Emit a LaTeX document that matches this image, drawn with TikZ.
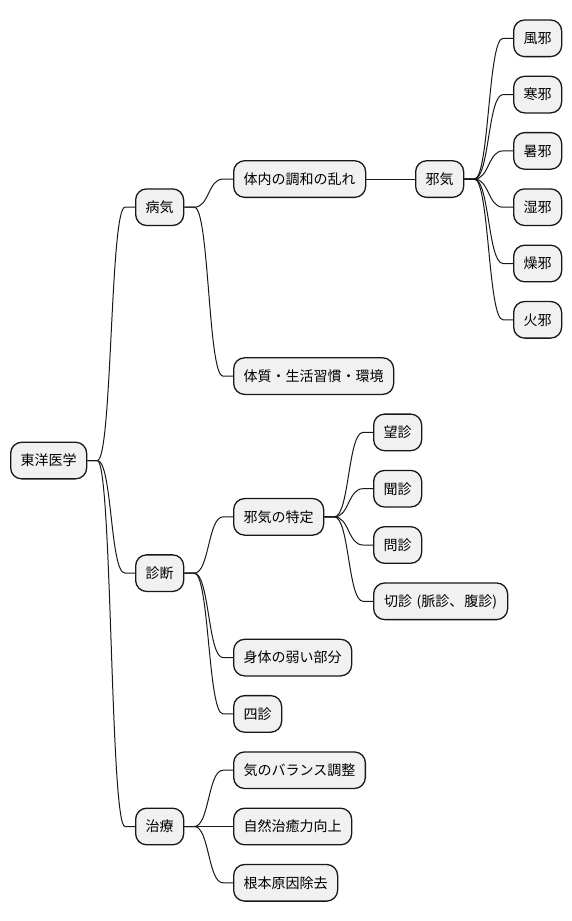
\documentclass[tikz,border=0pt]{standalone}
\usepackage{fontspec}
\setmainfont{Noto Sans CJK JP}
\usetikzlibrary{calc}
\definecolor{boxfill}{HTML}{F1F1F1}
\definecolor{boxline}{HTML}{181818}
\tikzset{
  mmbox/.style={draw=boxline, fill=boxfill, line width=1.3pt, rounded corners=11pt,
    anchor=west, inner xsep=10pt, inner ysep=0pt, minimum height=36.6pt,
    text height=12.3pt, text depth=1.7pt, font=\fontsize{14}{17}\selectfont},
  mmlink/.style={draw=boxline, line width=1pt}
}
\newcommand\mmedge[2]{\draw[mmlink] (#1.east) -- ++(10,0) .. controls ($(#1.east)+(25,0)$) and ($(#2.west)+(-25,0)$) .. ($(#2.west)+(-10,0)$) -- (#2.west);}
\begin{document}
\begin{tikzpicture}[x=1pt,y=-1pt]
\fill[white] (0,0) rectangle (572,921);
\useasboundingbox (0,0) rectangle (572,921);
% root
\node[mmbox] (root) at (10,460.55) {東洋医学};
% level 1
\node[mmbox] (byoki) at (135,207.2) {病気};
\node[mmbox] (shindan) at (135,573.15) {診断};
\node[mmbox] (chiryo) at (135,826.5) {治療};
% level 2 under 病気
\node[mmbox] (chowa) at (233,179.05) {体内の調和の乱れ};
\node[mmbox] (taishitsu) at (233,376.1) {体質・生活習慣・環境};
% level 3
\node[mmbox] (jaki) at (415,179.05) {邪気};
% level 4
\node[mmbox] (fuja) at (513,38.3) {風邪};
\node[mmbox] (kanja) at (513,94.6) {寒邪};
\node[mmbox] (shoja) at (513,150.9) {暑邪};
\node[mmbox] (shitsuja) at (513,207.2) {湿邪};
\node[mmbox] (soja) at (513,263.5) {燥邪};
\node[mmbox] (kaja) at (513,319.8) {火邪};
% under 診断
\node[mmbox] (tokutei) at (233,516.85) {邪気の特定};
\node[mmbox] (karada) at (233,657.6) {身体の弱い部分};
\node[mmbox] (shishin) at (233,713.9) {四診};
\node[mmbox] (boshin) at (373,432.4) {望診};
\node[mmbox] (bunshin) at (373,488.7) {聞診};
\node[mmbox] (monshin) at (373,545.0) {問診};
\node[mmbox, minimum width=134pt] (setsushin) at (373,601.3) {切診\hspace{1.5pt} (脈診、\hspace{1pt}腹診)};
% under 治療
\node[mmbox] (balance) at (233,770.2) {気のバランス調整};
\node[mmbox] (shizen) at (233,826.5) {自然治癒力向上};
\node[mmbox] (konpon) at (233,882.8) {根本原因除去};
% connectors
\mmedge{root}{byoki}
\mmedge{root}{shindan}
\mmedge{root}{chiryo}
\mmedge{byoki}{chowa}
\mmedge{byoki}{taishitsu}
\mmedge{chowa}{jaki}
\mmedge{jaki}{fuja}
\mmedge{jaki}{kanja}
\mmedge{jaki}{shoja}
\mmedge{jaki}{shitsuja}
\mmedge{jaki}{soja}
\mmedge{jaki}{kaja}
\mmedge{shindan}{tokutei}
\mmedge{shindan}{karada}
\mmedge{shindan}{shishin}
\mmedge{tokutei}{boshin}
\mmedge{tokutei}{bunshin}
\mmedge{tokutei}{monshin}
\mmedge{tokutei}{setsushin}
\mmedge{chiryo}{balance}
\mmedge{chiryo}{shizen}
\mmedge{chiryo}{konpon}
\end{tikzpicture}
\end{document}
